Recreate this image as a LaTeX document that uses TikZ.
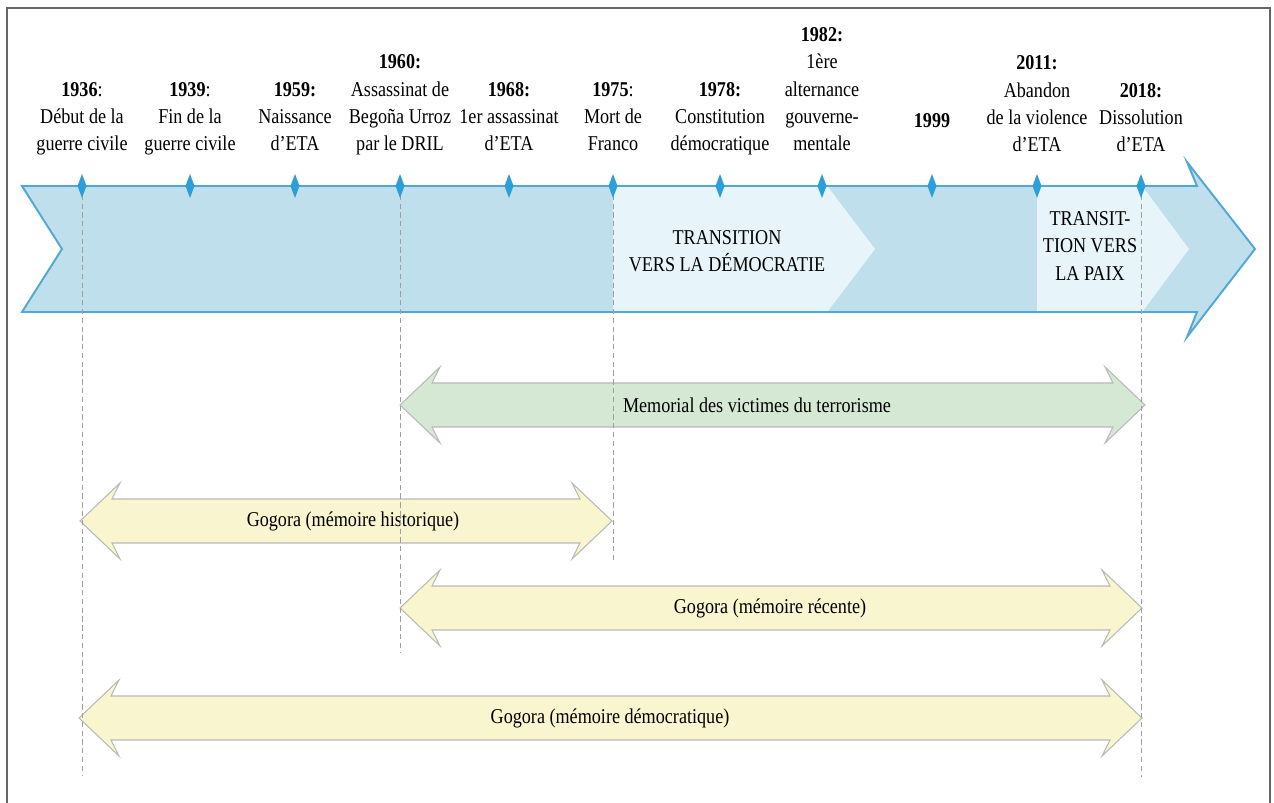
\documentclass[tikz,border=0pt]{standalone}
\usepackage{fontspec}
\setmainfont{Liberation Serif}[FakeStretch=0.86]
\usetikzlibrary{calc}

\definecolor{bandeau}{HTML}{BFDFEC}
\definecolor{clair}{HTML}{E7F4FA}
\definecolor{bordbleu}{HTML}{4FA8D5}
\definecolor{losange}{HTML}{2A9FD9}
\definecolor{vert}{HTML}{D5E8D3}
\definecolor{jaune}{HTML}{F8F5CF}

\tikzset{
  date/.style={anchor=south, align=center, inner sep=0pt, font=\fontsize{12}{15.5}\selectfont},
  etiquette/.style={align=center, inner sep=0pt, font=\fontsize{12}{15.5}\selectfont},
  fleche/.style={draw=gray!55, line width=0.6pt},
  repere/.style={draw=gray!75, line width=0.5pt, dash pattern=on 3pt off 2pt},
}

\begin{document}
\begin{tikzpicture}[x=0.02cm,y=-0.02cm]
\useasboundingbox (0,0) rectangle (1274,803);
% Cadre
\draw[gray!80!black, line width=0.8pt] (7,8) rectangle (1270,808);

% Bandeau (frise)
\fill[bandeau] (22,186) -- (1197,186) -- (1187,162) -- (1255,249) -- (1187,337)
  -- (1197,312) -- (22,312) -- (62,249) -- cycle;
\fill[clair] (613,187) -- (828,187) -- (875,249) -- (828,311) -- (613,311) -- cycle;
\fill[clair] (1037,187) -- (1143,187) -- (1189,249) -- (1143,311) -- (1037,311) -- cycle;
\draw[bordbleu, line width=1.1pt, line join=miter] (22,186) -- (1197,186) -- (1187,162)
  -- (1255,249) -- (1187,337) -- (1197,312) -- (22,312) -- (62,249) -- cycle;

\node[etiquette] (transdemo) at (727,251) {TRANSITION\\VERS LA DÉMOCRATIE};
\node[etiquette] (transpaix) at (1090,246) {TRANSIT-\\TION VERS\\LA PAIX};

% Dates et repères
\foreach \an/\x/\y/\texte in {
    1936/82/159/{\textbf{1936}:\\Début de la\\guerre civile},
    1939/190/159/{\textbf{1939}:\\Fin de la\\guerre civile},
    1959/295/159/{\textbf{1959:}\\Naissance\\d’ETA},
    1960/400/159/{\textbf{1960:}\\Assassinat de\\Begoña Urroz\\par le DRIL},
    1968/509/159/{\textbf{1968:}\\1er assassinat\\d’ETA},
    1975/613/159/{\textbf{1975}:\\Mort de\\Franco},
    1978/720/159/{\textbf{1978:}\\Constitution\\démocratique},
    1982/822/159/{\textbf{1982:}\\1ère\\alternance\\gouverne-\\mentale},
    1999/932/136/{\textbf{1999}},
    2011/1037/160/{\textbf{2011:}\\Abandon\\de la violence\\d’ETA},
    2018/1141/160/{\textbf{2018:}\\Dissolution\\d’ETA}} {
  \coordinate (p\an) at (\x,186);
  \node[date] (d\an) at (\x,\y) {\texte\strut};
}

% Flèches doubles
\foreach \nom/\a/\b/\yc/\tx/\coul/\texte in {
    memorial/400/1145/405/757/vert/{Memorial des victimes du terrorisme},
    historique/80/612/521/353/jaune/{Gogora (mémoire historique)},
    recente/400/1142/608/770/jaune/{Gogora (mémoire récente)},
    democratique/79/1142/718/610/jaune/{Gogora (mémoire démocratique)}} {
  \filldraw[fleche, fill=\coul] (\a,\yc) -- (\a+40,\yc-38) -- (\a+32,\yc-22)
    -- (\b-32,\yc-22) -- (\b-40,\yc-38) -- (\b,\yc) -- (\b-40,\yc+38)
    -- (\b-32,\yc+22) -- (\a+32,\yc+22) -- (\a+40,\yc+38) -- cycle;
  \node[etiquette] (\nom) at (\tx,\yc) {\texte};
}

% Pointillés verticaux
\draw[repere] (p1936) -- (p1936 |- 0,775);
\draw[repere] (p1960) -- (p1960 |- 0,652);
\draw[repere] (p1975) -- (p1975 |- 0,562);
\draw[repere] (p2018) -- (p2018 |- 0,777);

% Losanges
\foreach \an in {1936,1939,1959,1960,1968,1975,1978,1982,1999,2011,2018}
  \fill[losange] ($(p\an)+(0,-12)$) -- ($(p\an)+(4.5,0)$) -- ($(p\an)+(0,12)$)
    -- ($(p\an)+(-4.5,0)$) -- cycle;
\end{tikzpicture}
\end{document}
